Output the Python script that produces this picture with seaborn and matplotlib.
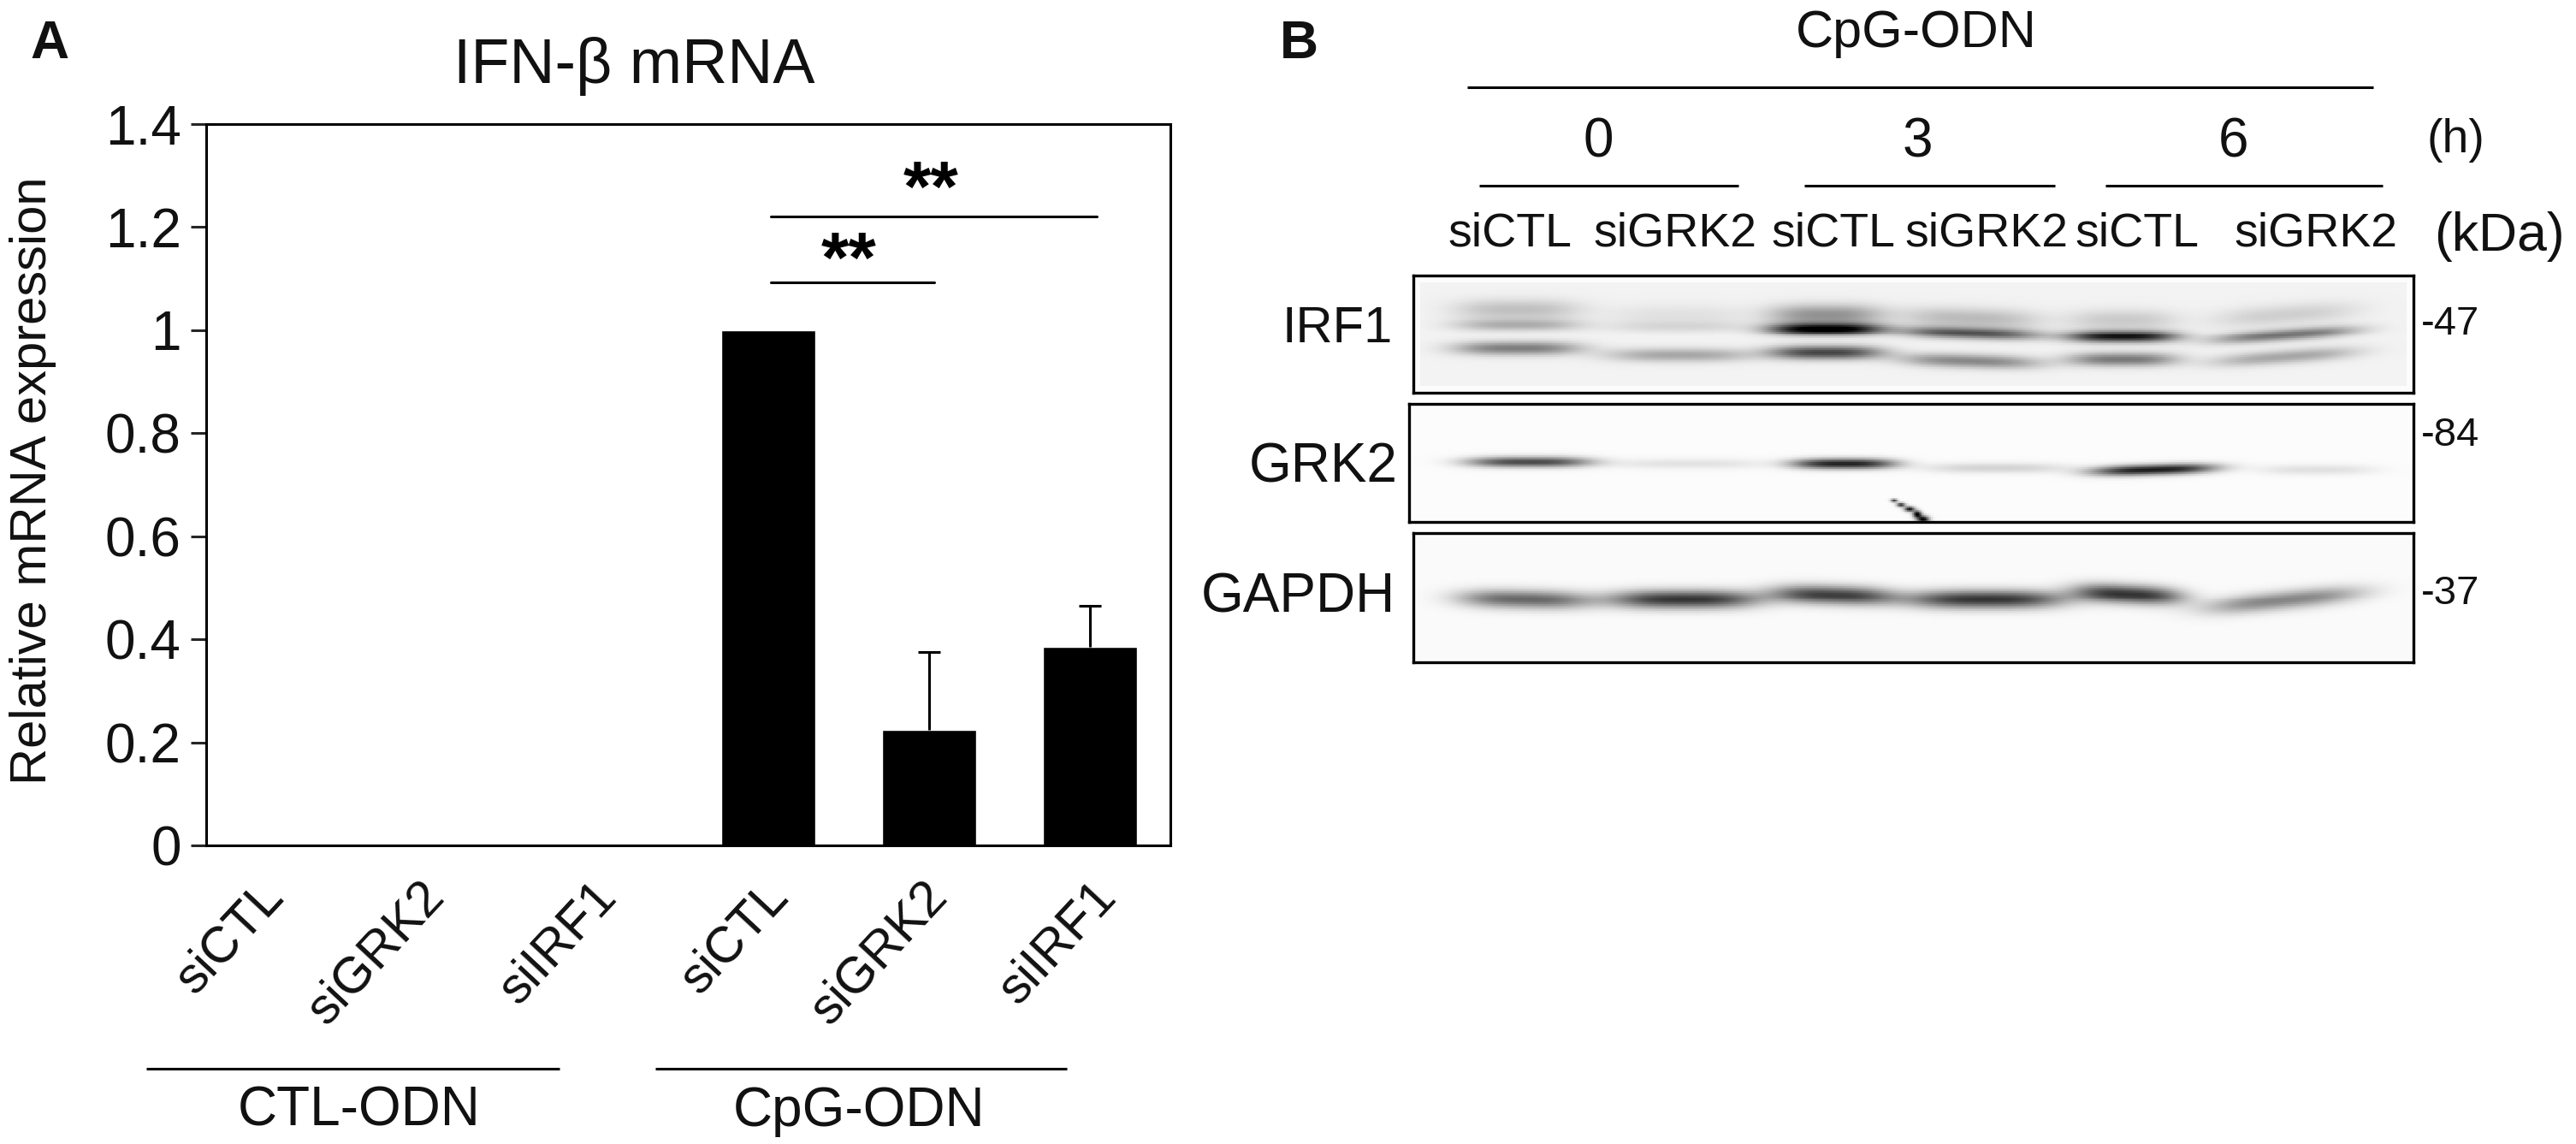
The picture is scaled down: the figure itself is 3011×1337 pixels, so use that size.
import numpy as np
import pandas as pd
import seaborn as sns
import matplotlib.pyplot as plt
from matplotlib.transforms import ScaledTranslation

W, H = 3011, 1337

# panel A
conditions = ['siCTL', 'siGRK2', 'siIRF1', 'siCTL', 'siGRK2', 'siIRF1']
groups = ['CTL-ODN', 'CTL-ODN', 'CTL-ODN', 'CpG-ODN', 'CpG-ODN', 'CpG-ODN']
expression = [0, 0, 0, 1.0, 0.225, 0.385]
errors = [0, 0, 0, 0, 0.15, 0.08]
y_ticks = [0, 0.2, 0.4, 0.6, 0.8, 1, 1.2, 1.4]
y_tick_labels = ['0', '0.2', '0.4', '0.6', '0.8', '1', '1.2', '1.4']

# panel B, one value per lane (0 = no band, 1 = black)
lane_labels = ['siCTL', 'siGRK2', 'siCTL', 'siGRK2', 'siCTL', 'siGRK2']
hours = ['0', '3', '6']
irf1_top = [0.20, 0.07, 0.38, 0.22, 0.16, 0.14]
irf1_upper = [0.26, 0.10, 1.00, 0.62, 0.88, 0.50]
irf1_lower = [0.46, 0.30, 0.68, 0.42, 0.48, 0.30]
grk2_band = [0.70, 0.10, 0.86, 0.16, 0.88, 0.11]
gapdh_band = [0.58, 0.78, 0.74, 0.78, 0.78, 0.46]

sns.set_style('white')
plt.rcParams['font.family'] = ['Liberation Sans', 'DejaVu Sans']

fig = plt.figure(figsize=(W / 100, H / 100), dpi=100)


def px_axes(x0, y0, x1, y1):
    return fig.add_axes([x0 / W, 1 - y1 / H, (x1 - x0) / W, (y1 - y0) / H])


# overlay in pixel coordinates for the labels and rules around the panels
overlay = px_axes(0, 0, W, H)
overlay.set_xlim(0, W)
overlay.set_ylim(H, 0)
overlay.axis('off')


def rule(x0, x1, y, lw=2.2):
    overlay.plot([x0, x1], [y, y], color='black', lw=lw, solid_capstyle='butt')


def label(x, y, s, size=44, ha='center', **kw):
    overlay.text(x, y, s, fontsize=size, ha=ha, va='center', color='#111111', **kw)


# A: bar chart
ax = px_axes(241, 145, 1368, 988)
df = pd.DataFrame({'key': [g + ' ' + c for g, c in zip(groups, conditions)], 'value': expression})
sns.barplot(data=df, x='key', y='value', color='black', saturation=1, width=0.585, ax=ax)

# upper error bars only
for i, (v, e) in enumerate(zip(expression, errors)):
    if e > 0:
        ax.vlines(i, v, v + e, color='black', lw=2.2)
        ax.hlines(v + e, i - 0.07, i + 0.07, color='black', lw=2.2)

ax.set_xlim(-0.5, 5.5)
ax.set_ylim(0, 1.4)
ax.set_yticks(y_ticks)
ax.set_yticklabels(y_tick_labels, fontsize=46, color='#111111')
ax.set_xticks(range(6))
ax.set_xticklabels(conditions, rotation=47, ha='right', va='top', rotation_mode='anchor',
                   fontsize=43, color='#111111')
ax.set_xlabel('')
ax.set_ylabel('Relative mRNA expression', fontsize=43, color='#111111')
ax.yaxis.set_label_coords(-0.155, 0.506)
ax.tick_params(axis='y', length=13, width=2.2, left=True, pad=8)
ax.tick_params(axis='x', length=0, pad=23)
for s in ax.spines.values():
    s.set_visible(True)
    s.set_linewidth(2.2)
    s.set_color('black')

# the labels in the source are not evenly spaced, nudge each one (points)
nudges = [-24, -24, -14, -5, -6, 1]
for tick_label, dx in zip(ax.get_xticklabels(), nudges):
    tick_label.set_transform(tick_label.get_transform() + ScaledTranslation(dx / 72, 0, fig.dpi_scale_trans))

# significance rules
ax.plot([3.016, 5.04], [1.22, 1.22], color='black', lw=2.2)
ax.plot([3.016, 4.03], [1.092, 1.092], color='black', lw=2.2)
ax.text(4.01, 1.268, '**', fontsize=60, fontweight='bold', ha='center', va='center', color='black')
ax.text(3.5, 1.130, '**', fontsize=60, fontweight='bold', ha='center', va='center', color='black')

rule(171, 654, 1249)
rule(766, 1247, 1249)
label(420, 1299, 'CTL-ODN', size=46)
label(1004, 1299, 'CpG-ODN', size=46)
label(741, 78, 'IFN-β mRNA', size=53)
label(58, 51, 'A', size=45, fontweight='bold')


# B: blots, bands rendered into a small grey image
def blot(box, lanes, centers, strengths, sigmas, background=0.97, tilts=None, extras=(), fade=0):
    x0, y0, x1, y1 = box
    xs = np.arange(x0, x1, 2) + 1.0
    ys = np.arange(y0, y1, 2) + 1.0
    X, Y = np.meshgrid(xs, ys)
    dark = np.zeros_like(X)
    for row, s_row, sigma in zip(centers, strengths, sigmas):
        for i, (lane, c, s) in enumerate(zip(lanes, row, s_row)):
            mid = (lane[0] + lane[1]) / 2
            half = (lane[1] - lane[0]) / 2
            tilt = 0 if tilts is None else tilts[i]
            along = np.exp(-np.abs((X - mid) / half) ** 3)
            dark += s * along * np.exp(-((Y - c - tilt * (X - mid)) / sigma) ** 2)
    for ex, ey, sx, sy, s in extras:
        dark += s * np.exp(-((X - ex) / sx) ** 2 - ((Y - ey) / sy) ** 2)
    img = np.clip(background - dark, 0, 1)
    if fade:
        # pale margin just inside the frame
        edge = np.minimum.reduce([X - x0, x1 - X, Y - y0, y1 - Y])
        img = np.where(edge < fade, np.maximum(img, 0.985), img)
    a = px_axes(*box)
    sns.heatmap(img, cmap='gray', vmin=0, vmax=1, cbar=False, xticklabels=False,
                yticklabels=False, ax=a, rasterized=True)
    for s in a.spines.values():
        s.set_visible(True)
        s.set_linewidth(2.4)
        s.set_color('black')
    return a


irf1_lanes = [(1700, 1848), (1878, 2048), (2068, 2200), (2222, 2386), (2418, 2546), (2588, 2756)]
blot((1652, 322, 2821, 459), irf1_lanes,
     [[362, 368, 368, 372, 374, 368],
      [380, 382, 385, 390, 394, 392],
      [408, 416, 413, 423, 421, 418]],
     [irf1_top, irf1_upper, irf1_lower], [12, 7, 8], background=0.95,
     tilts=[0, 0, 0, 0.03, 0, -0.07], fade=8)

grk2_lanes = [(1715, 1860), (1885, 2065), (2095, 2216), (2250, 2416), (2445, 2590), (2640, 2776)]
blot((1647, 472, 2821, 610), grk2_lanes,
     [[540, 542, 542, 547, 549, 549]],
     [grk2_band], [6], background=0.985,
     tilts=[0, 0, 0, 0, -0.03, 0],
     extras=[(2214, 585, 4, 2, 0.7), (2222, 590, 5, 2.5, 0.8), (2232, 595, 6, 3, 0.9),
             (2241, 601, 5, 4, 1.0), (2248, 607, 7, 4, 1.0)])

gapdh_lanes = [(1706, 1860), (1882, 2056), (2072, 2214), (2230, 2414), (2426, 2552), (2580, 2762)]
blot((1652, 623, 2821, 774), gapdh_lanes,
     [[701, 701, 696, 701, 695, 702]],
     [gapdh_band], [11], background=0.98,
     tilts=[0.02, 0, 0.03, 0, 0.05, -0.1])

# B: labels
rule(1715, 2774, 102)
rule(1729, 2032, 217)
rule(2109, 2402, 217)
rule(2461, 2785, 217)
label(1518, 51, 'B', size=45, fontweight='bold')
label(2240, 39, 'CpG-ODN', size=44)
for x, h in zip([1868, 2241, 2611], hours):
    label(x, 166, h, size=46)
label(2870, 164, '(h)', size=40)
for x, s in zip([1765, 1958, 2143, 2322, 2498, 2707], lane_labels):
    label(x, 274, s, size=40)
label(2921, 277, '(kDa)', size=45)
label(1628, 385, 'IRF1', size=43, ha='right')
label(1634, 546, 'GRK2', size=46, ha='right')
label(1631, 699, 'GAPDH', size=46, ha='right')
label(2830, 379, '-47', size=34, ha='left')
label(2830, 509, '-84', size=34, ha='left')
label(2830, 694, '-37', size=34, ha='left')

fig.savefig('out.png', dpi=100)
